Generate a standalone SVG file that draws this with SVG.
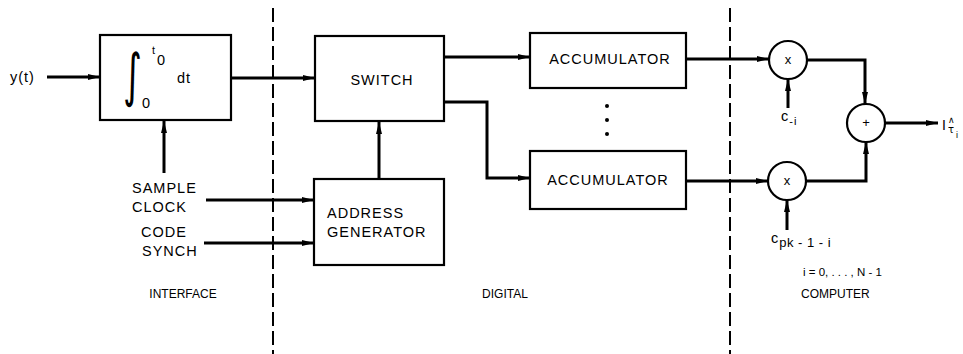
<svg xmlns="http://www.w3.org/2000/svg" width="963" height="354" viewBox="0 0 963 354">
  <style>
    .box { fill: #fff; stroke: #000; stroke-width: 2.2; }
    .wire { fill: none; stroke: #000; stroke-width: 3; marker-end: url(#ah); }
    .div { fill: none; stroke: #000; stroke-width: 2; stroke-dasharray: 14 5; }
    .lbl { font-family: "Liberation Sans", Arial, sans-serif; font-size: 14.5px; letter-spacing: 1px; fill: #000; }
    .sm { font-family: "Liberation Sans", Arial, sans-serif; font-size: 12px; fill: #000; }
    .mid { text-anchor: middle; }
  </style>
  <defs>
    <marker id="ah" viewBox="0 0 12 8" refX="12" refY="4" markerWidth="12" markerHeight="8" markerUnits="userSpaceOnUse" orient="auto">
      <path d="M0,1 L12,4 L0,7 Z" fill="#000"/>
    </marker>
  </defs>
  <rect width="963" height="354" fill="#fff"/>

  <!-- section dividers -->
  <g id="dividers">
    <line class="div" x1="273" y1="8" x2="273" y2="354"/>
    <line class="div" x1="730" y1="8" x2="730" y2="354"/>
  </g>

  <!-- connectors -->
  <g id="connectors">
    <line class="wire" x1="47" y1="77" x2="100" y2="77"/>
    <line class="wire" x1="231" y1="78" x2="315" y2="78"/>
    <line class="wire" x1="164" y1="173" x2="164" y2="121"/>
    <line class="wire" x1="206" y1="200" x2="314" y2="200"/>
    <line class="wire" x1="204" y1="243" x2="314" y2="243"/>
    <line class="wire" x1="379" y1="179" x2="379" y2="122"/>
    <line class="wire" x1="444" y1="57" x2="530" y2="57"/>
    <path class="wire" d="M444,102 H487 V178 H530"/>
    <line class="wire" x1="686" y1="59" x2="769" y2="59"/>
    <line class="wire" x1="686" y1="181" x2="768" y2="181"/>
    <path class="wire" d="M807,60 H865 V104"/>
    <path class="wire" d="M806,181 H866 V142"/>
    <line class="wire" x1="788" y1="108" x2="788" y2="79"/>
    <line class="wire" x1="787" y1="230" x2="787" y2="200"/>
    <line class="wire" x1="885" y1="123" x2="938" y2="123"/>
  </g>

  <text class="lbl" x="10" y="82">y(t)</text>

  <g id="integrator">
    <rect class="box" x="100" y="35" width="131" height="85"/>
    <text x="0" y="0" transform="translate(123,95) scale(0.9,1.45)" style="font-family:'DejaVu Sans',sans-serif;font-size:40px">∫</text>
    <text class="sm" x="152" y="54" style="font-size:11px">t</text>
    <text class="lbl" x="157" y="65" style="letter-spacing:0">0</text>
    <text class="lbl" x="142" y="108" style="letter-spacing:0">0</text>
    <text class="lbl" x="177" y="83">dt</text>
  </g>

  <g id="clock-labels">
    <text class="lbl" x="132" y="193">SAMPLE</text>
    <text class="lbl" x="132" y="212">CLOCK</text>
    <text class="lbl" x="141" y="237">CODE</text>
    <text class="lbl" x="142" y="256">SYNCH</text>
  </g>

  <g id="switch">
    <rect class="box" x="315" y="36" width="129" height="85"/>
    <text class="lbl mid" x="382" y="85">SWITCH</text>
  </g>

  <g id="address-generator">
    <rect class="box" x="314" y="179" width="130" height="86"/>
    <text class="lbl" x="327" y="218">ADDRESS</text>
    <text class="lbl" x="327" y="237">GENERATOR</text>
  </g>

  <g id="accumulator-1">
    <rect class="box" x="530" y="33" width="156" height="55"/>
    <text class="lbl mid" x="610" y="64">ACCUMULATOR</text>
  </g>

  <g id="ellipsis">
    <circle cx="607" cy="106" r="2"/>
    <circle cx="607" cy="120" r="2"/>
    <circle cx="607" cy="134" r="2"/>
  </g>

  <g id="accumulator-2">
    <rect class="box" x="530" y="151" width="156" height="58"/>
    <text class="lbl mid" x="608" y="185">ACCUMULATOR</text>
  </g>

  <g id="multiplier-1">
    <circle class="box" cx="788" cy="60" r="19"/>
    <text class="sm mid" x="788" y="64" style="font-size:13px">x</text>
  </g>
  <g id="coef-1">
    <text class="lbl" x="781" y="121">c<tspan dy="4" style="font-size:11px">-i</tspan></text>
  </g>

  <g id="multiplier-2">
    <circle class="box" cx="787" cy="181" r="19"/>
    <text class="sm mid" x="787" y="185" style="font-size:13px">x</text>
  </g>
  <g id="coef-2">
    <text class="lbl" x="771" y="243">c<tspan dy="4" style="font-size:13px;letter-spacing:0.5px">pk - 1 - i</tspan></text>
  </g>

  <g id="summer">
    <circle class="box" cx="866" cy="123" r="19"/>
    <text class="sm mid" x="866" y="127" style="font-size:13px">+</text>
  </g>

  <!-- estimate label: I with hatted tau, subscript i -->
  <g id="output-label">
    <text class="sm" x="942" y="130" style="font-size:14px">I<tspan x="948" y="123" style="font-family:'DejaVu Sans',sans-serif;font-size:9px">∧</tspan><tspan x="948" y="133" style="font-family:'DejaVu Sans',sans-serif;font-size:10px">τ</tspan><tspan x="956" y="138" style="font-size:9px">i</tspan></text>
  </g>

  <g id="section-labels">
    <text class="sm mid" x="183" y="298">INTERFACE</text>
    <text class="sm mid" x="505" y="298">DIGITAL</text>
    <text class="sm" x="801" y="298">COMPUTER</text>
    <text class="sm" x="803" y="276" style="font-size:11.5px">i = 0, . . . , N - 1</text>
  </g>
</svg>
